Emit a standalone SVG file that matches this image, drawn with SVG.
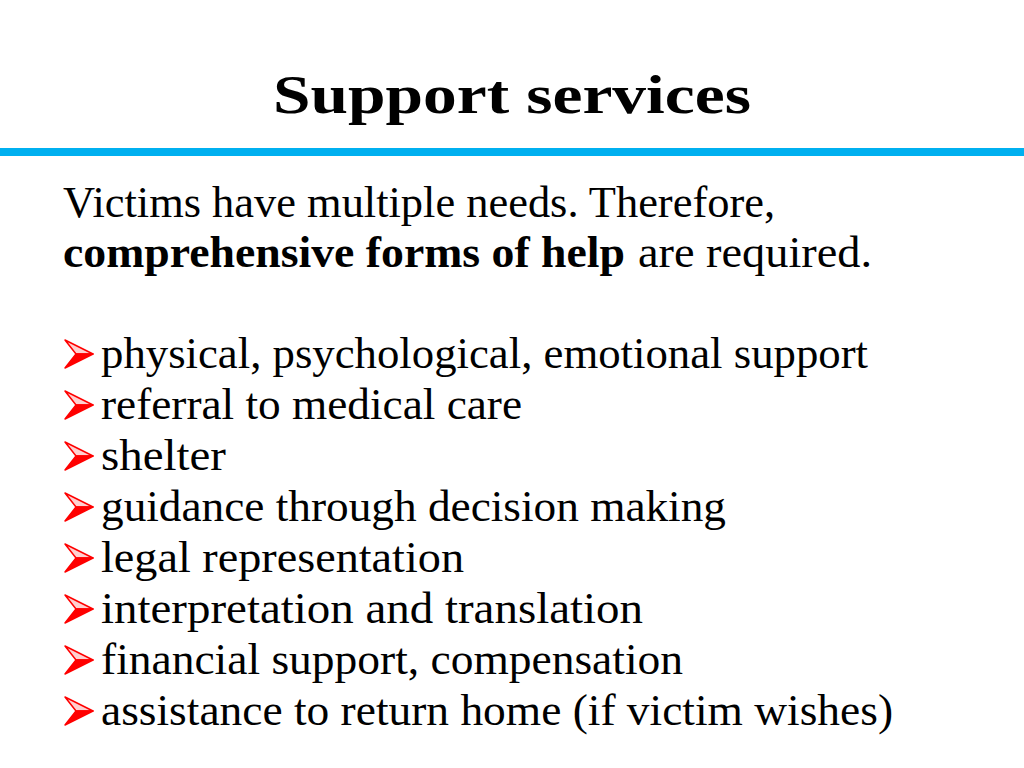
<svg xmlns="http://www.w3.org/2000/svg" width="1024" height="768" viewBox="0 0 1024 768">
<defs>
<style>
.t{font-family:"Liberation Serif","DejaVu Serif",serif;font-size:44px;fill:#000}
.b{font-weight:bold}
.ttl{font-family:"Liberation Serif","DejaVu Serif",serif;font-size:55px;font-weight:bold;fill:#000}
</style>
<g id="arrowBullet">
<polygon points="0,-28 28,-14 11,-14" fill="#ffd0d0" stroke="#ff0000" stroke-width="1.5" stroke-linejoin="round"/>
<polygon points="11,-14 28,-14 0,0" fill="#ff0000" stroke="#ff0000" stroke-width="1.5" stroke-linejoin="round"/>
</g>
</defs>
<rect width="1024" height="768" fill="#fff"/>
<g id="title">
<text class="ttl" x="273" y="113" textLength="478" lengthAdjust="spacingAndGlyphs">Support services</text>
</g>
<rect id="rule" x="0" y="148" width="1024" height="8" fill="#00b0f0"/>
<g id="intro">
<text class="t" x="63" y="217" textLength="712" lengthAdjust="spacingAndGlyphs">Victims have multiple needs. Therefore,</text>
<text class="t b" x="63" y="267" textLength="562" lengthAdjust="spacingAndGlyphs">comprehensive forms of help</text>
<text class="t" x="638" y="267" textLength="234" lengthAdjust="spacingAndGlyphs">are required.</text>
</g>
<g id="bullets">
<use href="#arrowBullet" x="65" y="368"/>
<text class="t" x="101" y="368" textLength="767" lengthAdjust="spacingAndGlyphs">physical, psychological, emotional support</text>
<use href="#arrowBullet" x="65" y="419"/>
<text class="t" x="101" y="419" textLength="421" lengthAdjust="spacingAndGlyphs">referral to medical care</text>
<use href="#arrowBullet" x="65" y="470"/>
<text class="t" x="101" y="470" textLength="125" lengthAdjust="spacingAndGlyphs">shelter</text>
<use href="#arrowBullet" x="65" y="521"/>
<text class="t" x="101" y="521" textLength="625" lengthAdjust="spacingAndGlyphs">guidance through decision making</text>
<use href="#arrowBullet" x="65" y="572"/>
<text class="t" x="101" y="572" textLength="363" lengthAdjust="spacingAndGlyphs">legal representation</text>
<use href="#arrowBullet" x="65" y="623"/>
<text class="t" x="101" y="623" textLength="542" lengthAdjust="spacingAndGlyphs">interpretation and translation</text>
<use href="#arrowBullet" x="65" y="674"/>
<text class="t" x="101" y="674" textLength="582" lengthAdjust="spacingAndGlyphs">financial support, compensation</text>
<use href="#arrowBullet" x="65" y="725"/>
<text class="t" x="101" y="725" textLength="792" lengthAdjust="spacingAndGlyphs">assistance to return home (if victim wishes)</text>
</g>
</svg>
